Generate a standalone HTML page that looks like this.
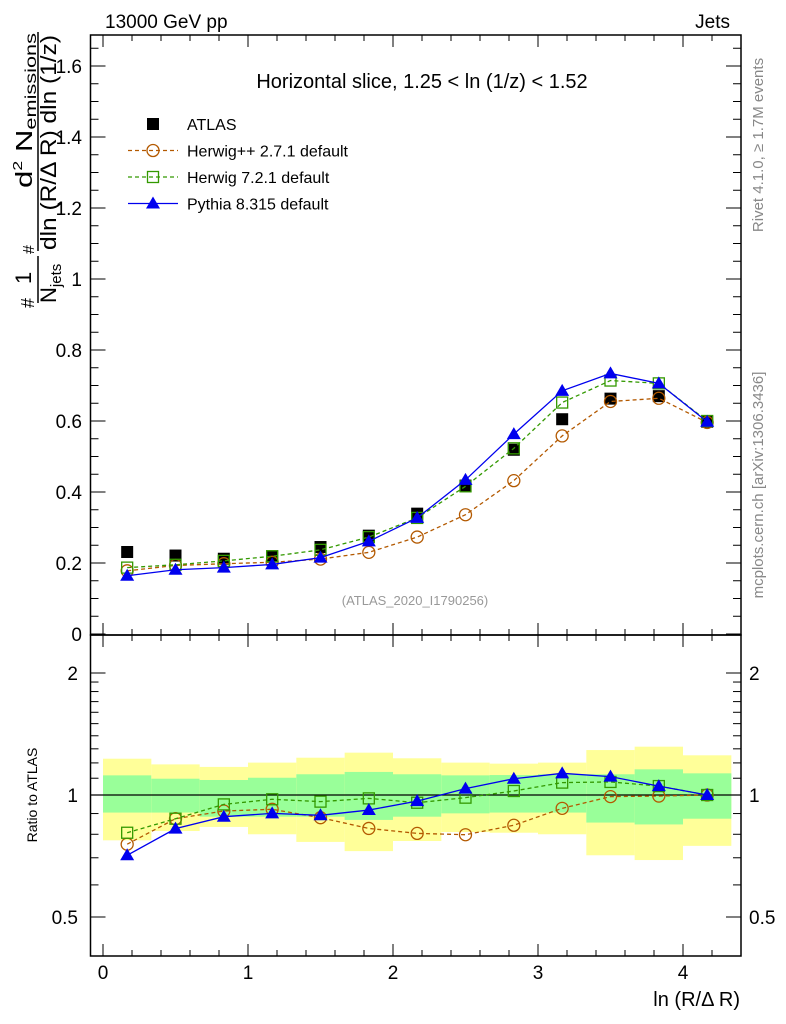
<!DOCTYPE html>
<html><head><meta charset="utf-8"><style>
html,body{margin:0;padding:0;background:#fff}
svg{display:block;font-family:"Liberation Sans",sans-serif}
</style></head><body>
<svg id="c" width="786" height="1024" viewBox="0 0 786 1024">
<g id="bands"></g>
<g id="axes"></g>
<g id="series"></g>
<text x="105" y="28" font-size="19">13000 GeV pp</text>
<text x="730" y="28" font-size="19" text-anchor="end">Jets</text>
<text x="422" y="88" font-size="20" text-anchor="middle">Horizontal slice, 1.25 &lt; ln (1/z) &lt; 1.52</text>
<text x="415" y="605" font-size="13" fill="#999" text-anchor="middle">(ATLAS_2020_I1790256)</text>
<text transform="translate(763,145) rotate(-90)" font-size="15" fill="#888" text-anchor="middle">Rivet 4.1.0, ≥ 1.7M events</text>
<text transform="translate(763,485) rotate(-90)" font-size="15" fill="#888" text-anchor="middle">mcplots.cern.ch [arXiv:1306.3436]</text>
<text x="740" y="1006" font-size="20" text-anchor="end">ln (R/Δ R)</text>
<text transform="translate(37,795) rotate(-90)" font-size="14" text-anchor="middle">Ratio to ATLAS</text>
<g transform="rotate(-90)">
  <text x="-308" y="34" font-size="18">#</text>
  <text x="-284" y="31" font-size="22">1</text>
  <line x1="-303" y1="38" x2="-256" y2="38" stroke="#000" stroke-width="1.5"/>
  <text x="-303" y="56" font-size="22">N<tspan font-size="15" dy="5">jets</tspan></text>
  <text x="-254" y="34" font-size="16">#</text>
  <text x="-188" y="32" font-size="23" textLength="155" lengthAdjust="spacingAndGlyphs">d<tspan font-size="13" dy="-10">2</tspan><tspan dy="10"> N</tspan><tspan font-size="16" dy="4">emissions</tspan></text>
  <line x1="-251" y1="38" x2="-32" y2="38" stroke="#000" stroke-width="1.5"/>
  <text x="-250" y="56" font-size="22" textLength="215" lengthAdjust="spacingAndGlyphs">dln (R/Δ R) dln (1/z)</text>
</g>
<g id="legend"></g>
</svg>
<script>
const xCenters=[0.1667,0.5,0.8333,1.1667,1.5,1.8333,2.1667,2.5,2.8333,3.1667,3.5,3.8333,4.1667];
const binHalf=0.1667;
const atlas=[0.231,0.221,0.212,0.219,0.245,0.277,0.339,0.418,0.519,0.605,0.663,0.670,0.598];
const herwigpp=[0.178,0.193,0.198,0.202,0.211,0.230,0.273,0.336,0.432,0.558,0.655,0.664,0.596];
const herwig7=[0.187,0.195,0.206,0.219,0.237,0.273,0.327,0.416,0.523,0.652,0.714,0.706,0.600];
const pythia=[0.164,0.181,0.187,0.196,0.215,0.261,0.327,0.434,0.563,0.685,0.734,0.706,0.598];
const rHerwigpp=[0.756,0.874,0.913,0.922,0.879,0.827,0.804,0.798,0.842,0.927,0.991,0.994,1.0];
const rHerwig7=[0.807,0.874,0.948,0.976,0.963,0.981,0.957,0.985,1.023,1.073,1.077,1.052,1.0];
const rPythia=[0.710,0.826,0.884,0.901,0.891,0.918,0.966,1.037,1.097,1.131,1.110,1.052,1.0];
const yellowHi=[1.229,1.190,1.173,1.202,1.236,1.272,1.232,1.202,1.195,1.202,1.291,1.316,1.253];
const greenHi=[1.118,1.097,1.089,1.103,1.125,1.140,1.125,1.118,1.120,1.125,1.125,1.157,1.131];
const greenLo=[0.905,0.905,0.884,0.884,0.884,0.868,0.884,0.901,0.905,0.905,0.855,0.846,0.874];
const yellowLo=[0.773,0.815,0.834,0.800,0.766,0.727,0.770,0.810,0.807,0.800,0.710,0.691,0.749];
const mainTicks=[0,0.2,0.4,0.6,0.8,1,1.2,1.4,1.6];
const mainTickLabels=["0","0.2","0.4","0.6","0.8","1","1.2","1.4","1.6"];
const ratioTicks=[0.5,1,2];
const ratioTickLabels=["0.5","1","2"];
const xTicks=[0,1,2,3,4];

const NS="http://www.w3.org/2000/svg";
const L=90.5,R=741,T=35,MB=635,RB=956;
const X=v=>103+v*145;
const Y=v=>634-v*355;
const RY=v=>795-Math.log(v)*176;
function mk(tag,at,parent){const e=document.createElementNS(NS,tag);for(const k in at)e.setAttribute(k,at[k]);parent.appendChild(e);return e;}
const axes=document.getElementById('axes'),bands=document.getElementById('bands'),ser=document.getElementById('series'),leg=document.getElementById('legend');

for(let i=0;i<xCenters.length;i++){
  const x0=X(xCenters[i]-binHalf),x1=X(xCenters[i]+binHalf);
  let r=mk('rect',{x:x0,y:RY(yellowHi[i]),width:x1-x0,height:RY(yellowLo[i])-RY(yellowHi[i]),fill:'#ffff99'},bands);
  
  
  r=mk('rect',{x:x0,y:RY(greenHi[i]),width:x1-x0,height:RY(greenLo[i])-RY(greenHi[i]),fill:'#99ff99'},bands);
  
  
}
mk('line',{x1:L,x2:R,y1:RY(1),y2:RY(1),stroke:'#000','stroke-width':1.3},axes);

let f=mk('rect',{x:L,y:T,width:R-L,height:MB-T,fill:'none',stroke:'#000','stroke-width':1.5},axes);


f=mk('rect',{x:L,y:MB,width:R-L,height:RB-MB,fill:'none',stroke:'#000','stroke-width':1.5},axes);



for(let v=0;v<=4.4;v+=0.2){
  const maj=Math.abs(v-Math.round(v))<1e-6, len=maj?12:6, x=X(v);
  [[T,1],[MB,-1],[MB,1],[RB,-1]].forEach(([y,d])=>mk('line',{x1:x,x2:x,y1:y,y2:y+d*len,stroke:'#000'},axes));
}
xTicks.forEach(v=>{const t=mk('text',{x:X(v),y:979,'font-size':19,'text-anchor':'middle'},axes);t.textContent=v;

});

for(let v=0;v<=1.68;v+=0.05){
  const maj=Math.abs(v*5-Math.round(v*5))<1e-6,len=maj?15:8,y=Y(v);
  if(y<T)continue;
  mk('line',{x1:L,x2:L+len,y1:y,y2:y,stroke:'#000'},axes);
  mk('line',{x1:R,x2:R-len,y1:y,y2:y,stroke:'#000'},axes);
}
mainTicks.forEach((v,i)=>{const t=mk('text',{x:82,y:Y(v)+7,'font-size':19,'text-anchor':'end'},axes);t.textContent=mainTickLabels[i];

});

[0.5,0.6,0.7,0.8,0.9,1,1.1,1.2,1.3,1.4,1.5,1.6,1.7,1.8,1.9,2].forEach(v=>{
  const maj=ratioTicks.includes(v),len=maj?15:8,y=RY(v);
  mk('line',{x1:L,x2:L+len,y1:y,y2:y,stroke:'#000'},axes);
  mk('line',{x1:R,x2:R-len,y1:y,y2:y,stroke:'#000'},axes);
});
ratioTicks.forEach((v,i)=>{
  let t=mk('text',{x:78,y:RY(v)+7,'font-size':19,'text-anchor':'end'},axes);t.textContent=ratioTickLabels[i];
  
  
  t=mk('text',{x:749,y:RY(v)+7,'font-size':19},axes);t.textContent=ratioTickLabels[i];
  
  
});

function marker(kind,x,y,color,g){
  if(kind==='sq') return mk('rect',{x:x-6,y:y-6,width:12,height:12,fill:'#000'},g);
  if(kind==='circ') return mk('circle',{cx:x,cy:y,r:6,fill:'none',stroke:color,'stroke-width':1.3},g);
  if(kind==='osq') return mk('rect',{x:x-5.5,y:y-5.5,width:11,height:11,fill:'none',stroke:color,'stroke-width':1.3},g);
  return mk('polygon',{points:`${x},${y-7} ${x-7},${y+5} ${x+7},${y+5}`,fill:color},g);
}
function series(vals,yf,color,dash,kind,name){
  const g=mk('g',{},ser);
  
  
  if(color){mk('polyline',{points:vals.map((v,i)=>X(xCenters[i])+','+yf(v)).join(' '),fill:'none',stroke:color,'stroke-width':1.3,'stroke-dasharray':dash||'none'},g);}
  vals.forEach((v,i)=>{const m=marker(kind,X(xCenters[i]),yf(v),color,g);
    
    });
}
const cHpp='#b35900',cH7='#339900',cPy='#0000ee';
series(atlas,Y,null,null,'sq','atlas-data');
series(herwigpp,Y,cHpp,'4,3','circ','herwigpp-main');
series(herwig7,Y,cH7,'4,3','osq','herwig7-main');
series(pythia,Y,cPy,null,'tri','pythia-main');
series(rHerwigpp,RY,cHpp,'4,3','circ','herwigpp-ratio');
series(rHerwig7,RY,cH7,'4,3','osq','herwig7-ratio');
series(rPythia,RY,cPy,null,'tri','pythia-ratio');

const entries=[['ATLAS',null,null,'sq'],['Herwig++ 2.7.1 default',cHpp,'4,3','circ'],['Herwig 7.2.1 default',cH7,'4,3','osq'],['Pythia 8.315 default',cPy,null,'tri']];
entries.forEach((e,i)=>{
  const y=124+i*26.5;
  const g=mk('g',{},leg);
  
  
  if(e[1])mk('line',{x1:128,x2:178,y1:y,y2:y,stroke:e[1],'stroke-width':1.3,'stroke-dasharray':e[2]||'none'},g);
  marker(e[3],153,y,e[1],g);
  const t=mk('text',{x:187,y:y+6,'font-size':16},g);t.textContent=e[0];
});
</script>
</body></html>
